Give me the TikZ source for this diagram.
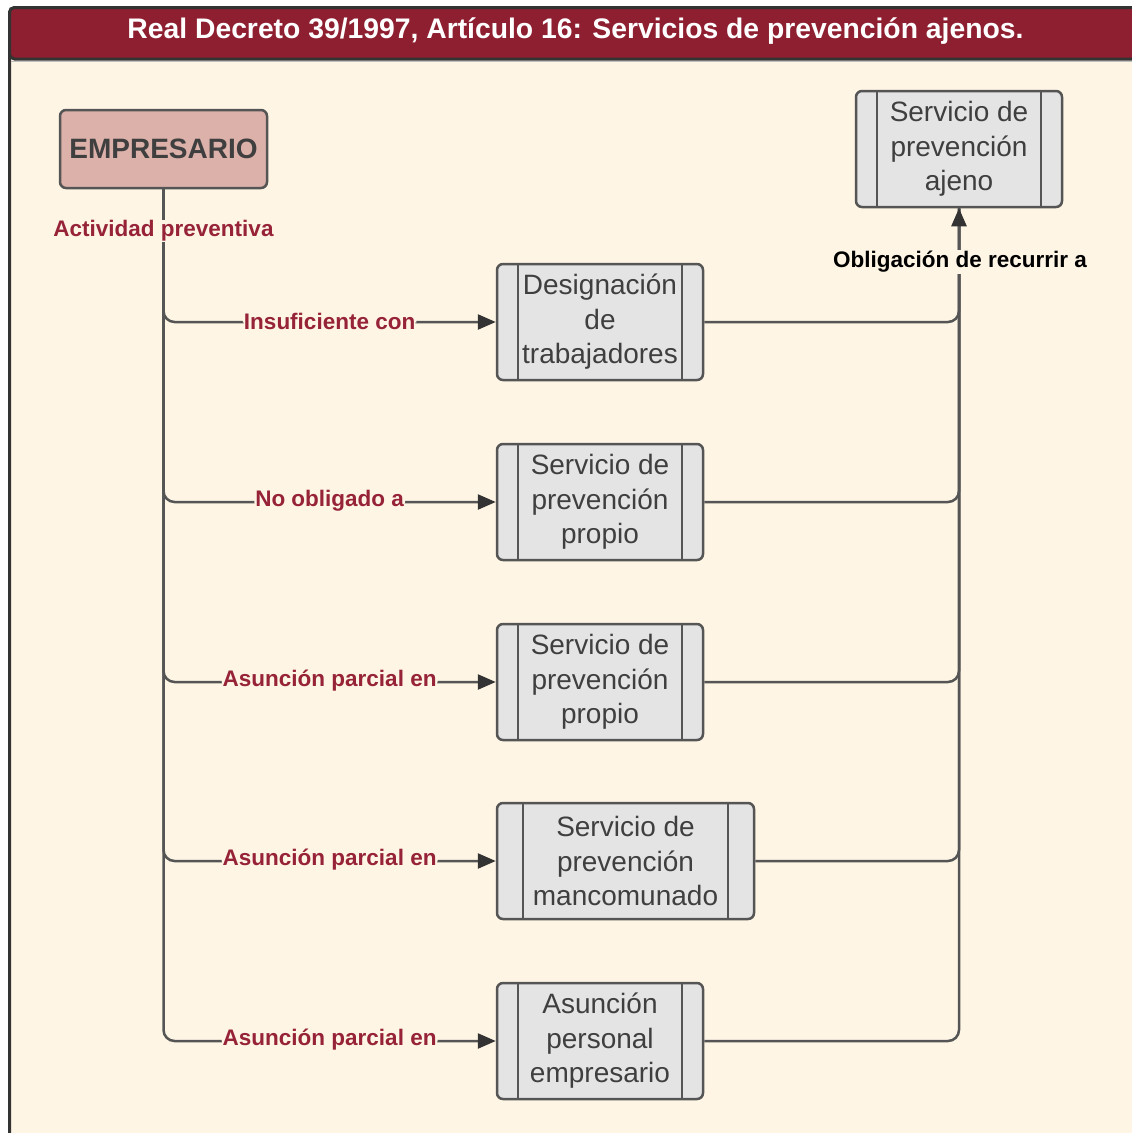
\documentclass[tikz,border=0pt]{standalone}
\usepackage{fontspec}
\setmainfont{Liberation Sans}
\usetikzlibrary{arrows.meta}
\definecolor{cream}{HTML}{FEF5E4}
\definecolor{barred}{HTML}{8E1F30}
\definecolor{framegray}{HTML}{333333}
\definecolor{edgegray}{HTML}{555555}
\definecolor{boxfill}{HTML}{E4E4E4}
\definecolor{empfill}{HTML}{DCB1AA}
\definecolor{txtgray}{HTML}{3F3F3F}
\definecolor{lblred}{HTML}{962338}
\tikzset{
  proc/.style={draw=edgegray, fill=boxfill, line width=2.5pt, rounded corners=6pt,
    minimum height=116pt, minimum width=206pt, inner sep=0pt, align=center,
    text=txtgray, font=\fontsize{28}{34.5}\selectfont,
    path picture={
      \draw[edgegray, line width=2.5pt]
        ([xshift=#1]path picture bounding box.north west) -- ([xshift=#1]path picture bounding box.south west)
        ([xshift=-#1]path picture bounding box.north east) -- ([xshift=-#1]path picture bounding box.south east);
    }},
  proc/.default=21pt,
  emp/.style={draw=edgegray, fill=empfill, line width=2.5pt, rounded corners=6pt,
    minimum width=207pt, minimum height=78pt, inner sep=0pt, text=txtgray,
    font=\fontsize{28}{34}\selectfont\bfseries},
  link/.style={draw=edgegray, line width=2.5pt, rounded corners=11pt},
  tip/.style={-{Triangle[length=18pt,width=15pt,color=framegray]}},
  lbl/.style={text=lblred, font=\fontsize{22.5}{27}\selectfont\bfseries, fill=cream,
    inner sep=1pt, yshift=-2pt},
}
\begin{document}
\begin{tikzpicture}[x=1pt,y=-1pt]
\useasboundingbox (0,0) rectangle (1132,1133);
\fill[white] (0,0) rectangle (1132,1133);
\begin{scope}
  \clip (0,0) rectangle (1132,1133);
  % page frame and title bar
  \filldraw[fill=cream, draw=framegray, line width=3pt, rounded corners=5pt]
    (9.5,7.5) rectangle (1150,1150);
  \draw[black!25, line width=1.5pt] (11,61.5) -- (1150,61.5);
  \filldraw[fill=barred, draw=framegray, line width=3pt, rounded corners=5pt]
    (9.5,7.5) rectangle (1150,59);
\end{scope}
\node (title) at (575.5,31) [text=white, font=\fontsize{28.3}{34}\selectfont\bfseries]
  {Real Decreto 39/1997, Artículo 16: Servicios de prevención ajenos.};

% nodes
\node[emp] (emp) at (163.5,149) {\raisebox{-2pt}{EMPRESARIO}};
\node[proc] (ajeno) at (959,149) {Servicio de\\prevención\\ajeno};
\node[proc] (b1) at (600,322) {Designación\\de\\trabajadores};
\node[proc] (b2) at (600,502) {Servicio de\\prevención\\propio};
\node[proc] (b3) at (600,682) {Servicio de\\prevención\\propio};
\node[proc=26pt, minimum width=257pt] (b4) at (625.5,861) {Servicio de\\prevención\\mancomunado};
\node[proc] (b5) at (600,1041) {Asunción\\personal\\empresario};

% branches from the employer
\draw[link, tip] (emp.south) |- (b1.west) node[lbl, pos=0.75, yshift=3pt] (l1) {Insuficiente con};
\draw[link, tip] (emp.south) |- (b2.west) node[lbl, pos=0.75, yshift=3pt] (l2) {No obligado a};
\draw[link, tip] (emp.south) |- (b3.west) node[lbl, pos=0.75, yshift=3pt] (l3) {Asunción parcial en};
\draw[link, tip] (emp.south) |- (b4.west) node[lbl, pos=0.75, yshift=3pt] (l4) {Asunción parcial en};
\draw[link, tip] (emp.south) |- (b5.west) node[lbl, pos=0.75, yshift=3pt] (l5) {Asunción parcial en};
\node[lbl] (act) at (163.5,229) {Actividad preventiva};

% branches to the external service
\draw[link] (b1.east) -| (ajeno.south);
\draw[link] (b2.east) -| (ajeno.south);
\draw[link] (b3.east) -| (ajeno.south);
\draw[link] (b4.east) -| (ajeno.south);
\draw[link, tip] (b5.east) -| (ajeno.south);
\node[lbl, text=black] (obl) at (960,260) {Obligación de recurrir a};
\end{tikzpicture}
\end{document}
